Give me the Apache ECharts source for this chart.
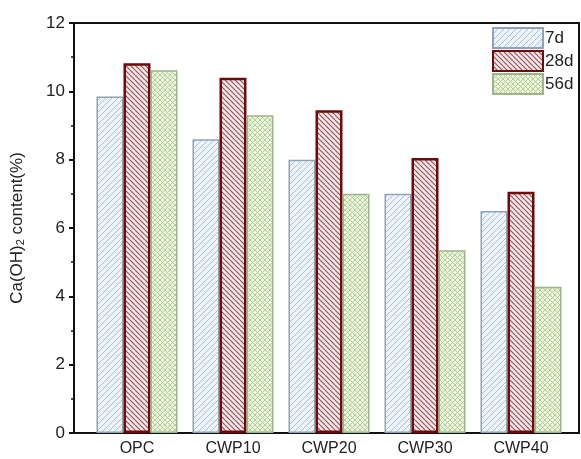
<!DOCTYPE html>
<html>
<head>
<meta charset="utf-8">
<script src="https://cdn.jsdelivr.net/npm/echarts@6/dist/echarts.min.js"></script>
<style>
html,body{margin:0;padding:0;background:#fff;}
#chart{width:581px;height:459px;}
</style>
</head>
<body>
<div id="chart"></div>
<script>
const categories = ['OPC', 'CWP10', 'CWP20', 'CWP30', 'CWP40'];
const seriesNames = ['7d', '28d', '56d'];
const values7d  = [9.85, 8.6, 8.0, 7.0, 6.5];
const values28d = [10.82, 10.4, 9.45, 8.05, 7.06];
const values56d = [10.62, 9.3, 7.0, 5.35, 4.28];
const yTicks = [0, 2, 4, 6, 8, 10, 12];

function makePattern(bg, lineColor, dirs, size, lw) {
  const c = document.createElement('canvas');
  c.width = size; c.height = size;
  const ctx = c.getContext('2d');
  ctx.fillStyle = bg;
  ctx.fillRect(0, 0, size, size);
  ctx.strokeStyle = lineColor;
  ctx.lineWidth = lw;
  dirs.forEach(d => {
    for (let k = -1; k <= 1; k++) {
      ctx.beginPath();
      if (d === '/') {
        ctx.moveTo(k * size, size);
        ctx.lineTo(k * size + size, 0);
      } else {
        ctx.moveTo(k * size, 0);
        ctx.lineTo(k * size + size, size);
      }
      ctx.stroke();
    }
  });
  return c;
}

const pat7 = makePattern('#edf4fb', '#a9bed2', ['/'], 6, 1);
const pat28 = makePattern('#fbe4e6', '#83525a', ['\\'], 5, 1.1);
const pat56 = makePattern('#eaf5dc', '#acca92', ['/', '\\'], 5, 0.9);

function toData(arr) { return arr.map((v, i) => [i, v]); }

const chart = echarts.init(document.getElementById('chart'));
const font = 'Liberation Sans, Arial, sans-serif';
chart.setOption({
  animation: false,
  backgroundColor: '#fff',
  grid: {
    left: 74, right: 2, top: 23, bottom: 26,
    show: true, borderColor: '#111', borderWidth: 2, backgroundColor: 'transparent'
  },
  legend: {
    orient: 'vertical',
    left: 492, top: 27,
    icon: 'rect',
    itemWidth: 50, itemHeight: 20, itemGap: 1,
    padding: 0,
    textStyle: { fontFamily: font, fontSize: 17, color: '#222', padding: [0, 0, 0, -3] },
    data: seriesNames
  },
  xAxis: {
    type: 'value',
    min: -0.656, max: 4.604,
    splitLine: { show: false },
    axisLine: { show: true, onZero: false, lineStyle: { color: '#111', width: 2 } },
    axisTick: { show: false },
    axisLabel: {
      customValues: [0, 1, 2, 3, 4],
      formatter: v => categories[Math.round(v)],
      fontFamily: font, fontSize: 16, color: '#222', margin: 8
    }
  },
  yAxis: {
    type: 'value',
    min: 0, max: 12, interval: 2,
    name: '{a|Ca(OH)}{s|2}{a| content(%)}',
    nameLocation: 'middle',
    nameRotate: 90,
    nameGap: 48,
    nameTextStyle: {
      rich: {
        a: { fontFamily: font, fontSize: 17, color: '#222' },
        s: { fontFamily: font, fontSize: 11, color: '#222', verticalAlign: 'bottom', padding: [7, 0, 0, 0] }
      }
    },
    splitLine: { show: false },
    axisLine: { show: true, onZero: false, lineStyle: { color: '#111', width: 2 } },
    axisTick: { show: true, inside: false, length: 5, lineStyle: { color: '#111', width: 2 } },
    minorTick: { show: true, splitNumber: 2, length: 3, lineStyle: { color: '#111', width: 1.5 } },
    axisLabel: {
      fontFamily: font, fontSize: 17, color: '#222', margin: 9,
      formatter: v => (yTicks.indexOf(v) >= 0 ? String(v) : '')
    }
  },
  series: [
    {
      name: seriesNames[0], type: 'bar', data: toData(values7d),
      barWidth: 27, barGap: '0%',
      itemStyle: { color: { image: pat7, repeat: 'repeat' }, borderColor: '#8ea3b6', borderWidth: 1.5 }
    },
    {
      name: seriesNames[1], type: 'bar', data: toData(values28d),
      barWidth: 27, barGap: '0%',
      itemStyle: { color: { image: pat28, repeat: 'repeat' }, borderColor: '#6e0a0a', borderWidth: 2.5 }
    },
    {
      name: seriesNames[2], type: 'bar', data: toData(values56d),
      barWidth: 27, barGap: '0%',
      itemStyle: { color: { image: pat56, repeat: 'repeat' }, borderColor: '#9db58c', borderWidth: 1.5 }
    }
  ]
});
</script>
</body>
</html>
